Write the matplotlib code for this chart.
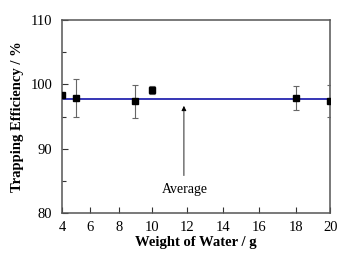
import matplotlib
matplotlib.use("Agg")
import matplotlib.pyplot as plt
import numpy as np

# data
water_g = [4, 5, 9, 10, 18, 20]
efficiency = [98.4, 97.9, 97.4, 99.2, 97.9, 97.5]
err_low = [0.0, 3.0, 2.6, 0.7, 1.9, 2.5]
err_high = [0.0, 3.0, 2.5, 0.5, 1.8, 2.4]
average = 97.7
x_ticks = [4, 6, 8, 10, 12, 14, 16, 18, 20]
y_ticks = [80, 90, 100, 110]

# the scanned x axis is slightly uneven; map tick values to their spacing
tick_pos = np.array([62.7, 91.0, 119.3, 152.3, 187.7, 222.7, 259.3, 296.0, 330.0])
tick_val = np.array(x_ticks, dtype=float)


def _warp(v, src, dst):
    v = np.asarray(v, dtype=float)
    out = np.interp(v, src, dst)
    s0 = (dst[1] - dst[0]) / (src[1] - src[0])
    s1 = (dst[-1] - dst[-2]) / (src[-1] - src[-2])
    out = np.where(v < src[0], dst[0] + (v - src[0]) * s0, out)
    out = np.where(v > src[-1], dst[-1] + (v - src[-1]) * s1, out)
    return out


plt.rcParams["font.family"] = ["Liberation Serif", "DejaVu Serif"]

fig = plt.figure(figsize=(3.49, 2.58), dpi=100)
ax = fig.add_axes([0.178, 0.174, 0.768, 0.748])
ax.set_xscale("function", functions=(lambda v: _warp(v, tick_val, tick_pos),
                                     lambda v: _warp(v, tick_pos, tick_val)))

ax.errorbar(water_g, efficiency, yerr=[err_low, err_high], fmt="s",
            color="black", ms=4.5, ecolor="#666666", elinewidth=0.8,
            capsize=2.5, capthick=0.8, zorder=3)
ax.plot([4, 20], [average, average], color="#3535b5", lw=1.4, zorder=2)

ax.annotate("", xy=(11.8, 97.1), xytext=(11.8, 85.4),
            arrowprops=dict(arrowstyle="-|>", color="black", lw=0.6,
                            mutation_scale=7))
ax.text(11.85, 83.6, "Average", ha="center", va="center", fontsize=10)

ax.set_xlim(4, 20)
ax.set_ylim(80, 110)
ax.set_xticks(x_ticks)
ax.set_yticks(y_ticks)
ax.set_yticks([85, 95, 105], minor=True)
ax.tick_params(direction="in", labelsize=10.5, width=0.8, length=4,
               colors="#333333", labelcolor="black")
ax.tick_params(axis="x", pad=6)
ax.tick_params(axis="y", pad=7)
ax.tick_params(which="minor", direction="in", width=0.8, length=3, colors="#333333")
for s in ax.spines.values():
    s.set_color("#555555")
    s.set_linewidth(1.1)

ax.set_xlabel("Weight of Water / g", fontsize=10.5, fontweight="bold", labelpad=1)
ax.set_ylabel("Trapping Efficiency / %", fontsize=10.5, fontweight="bold", labelpad=5)

plt.savefig("out.png", dpi=100)
plt.close()
